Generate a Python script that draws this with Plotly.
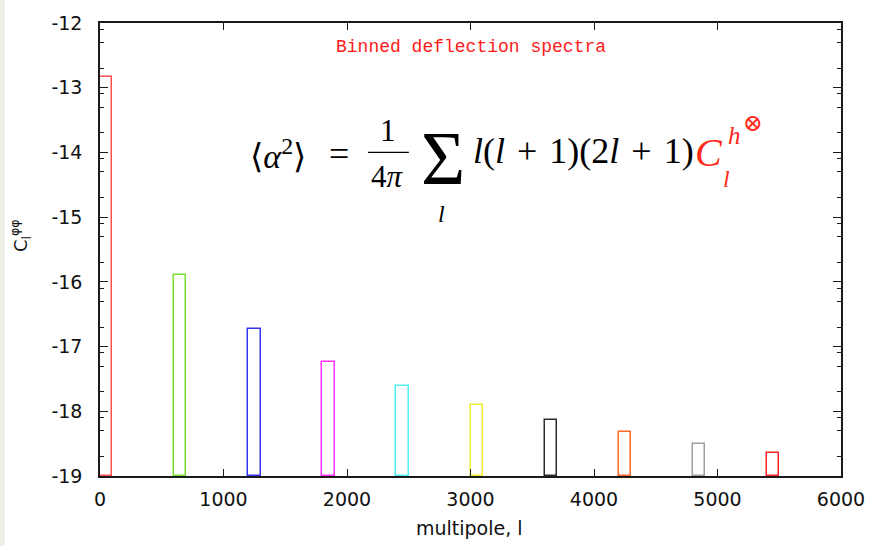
import plotly.graph_objects as go
import numpy as np

# Binned deflection spectra: log10 C_l^{phi phi} per multipole bin
bin_start = [0, 600, 1200, 1800, 2400, 3000, 3600, 4200, 4800, 5400]
bin_width = 100
log_cl = [-12.84, -15.89, -16.73, -17.24, -17.61, -17.90, -18.13, -18.32, -18.50, -18.65]
bar_colors = ["#ff5050", "#78e030", "#3434f0", "#ff34ff", "#50f0f0",
              "#f0ec30", "#2a2a2a", "#ff6428", "#a0a0a0", "#ff2424"]
floor = -19

y_ticks = [-19, -18, -17, -16, -15, -14, -13, -12]
y_tick_text = ["-19", "-18", "-17", "-16", "-15", "-14", "-13", "-12"]
x_ticks = [0, 1000, 2000, 3000, 4000, 5000, 6000]
x_tick_text = ["0", "1000", "2000", "3000", "4000", "5000", "6000"]

# minor ticks at log10(2), log10(5), log10(8) inside each unit
y_minor = [n + np.log10(k) for n in range(-19, -12) for k in (2, 5, 8)]

AX = "#1a1a1a"
SANS = "DejaVu Sans, Arial, sans-serif"
SERIF = "Liberation Serif, DejaVu Serif, serif"
HAIR = "\u200a"

fig = go.Figure()
fig.add_trace(go.Bar(
    x=bin_start,
    y=[v - floor for v in log_cl],
    base=floor,
    width=bin_width,
    offset=0,
    marker=dict(color="rgba(0,0,0,0)", line=dict(color=bar_colors, width=1.5)),
    showlegend=False,
    hoverinfo="skip",
))

# plot-area pixel helpers for the text layout
L, R, T, B = 100.3, 845.7, 15.3, 476.3


def px(x):
    return (x - L) / (R - L)


def py(y):
    return (B - y) / (B - T)


ann = []


def text(x, y, s, size, color="black", font=SERIF, xanchor="center", yanchor="middle", angle=0):
    ann.append(dict(x=px(x), y=py(y), xref="paper", yref="paper", text=s, showarrow=False,
                    xanchor=xanchor, yanchor=yanchor, textangle=angle,
                    font=dict(family=font, size=size, color=color)))


# heading
text(474, 40, "Binned deflection spectra", 18, color="#ff1a1a",
     font="Liberation Mono, Courier New, monospace")

# <alpha^2> = 1/(4 pi) sum_l l(l+1)(2l+1) C_l^{h (x)}
plus = " " + HAIR + "+" + HAIR + " "
text(249, 149, "⟨<i>α</i><sup>2</sup>⟩", 34, xanchor="left")
text(341, 149, "=", 36)
text(390, 125, "1", 31)
text(390, 172, "4<i>π</i>", 31)
text(445, 153, "Σ", 76)
text(444, 210, "<i>l</i>", 24)
text(473, 146, "<i>l</i>(<i>l</i>" + plus + "1)(2<i>l</i>" + plus + "1)", 36, xanchor="left")
RED = "#ff2a1a"
text(697, 147, "<i>C</i>", 40, color=RED, xanchor="left")
text(725, 174, "<i>l</i>", 24, color=RED, xanchor="left")
text(730, 130, "<i>h</i>", 25, color=RED, xanchor="left")
text(745, 117, "⊗", 24, color=RED, xanchor="left")

# axis titles
text(472, 529, "multipole, l", 19, color="#111", font=SANS)
text(20, 232, "C<sub>l</sub><sup>φφ</sup>", 18, color="#111", font=SANS, angle=-90)

shapes = [
    # fraction bar
    dict(type="line", xref="paper", yref="paper", x0=px(370), x1=px(411), y0=py(147), y1=py(147),
         line=dict(color="black", width=1.3)),
    # light strip along the left edge of the page
    dict(type="rect", xref="paper", yref="paper", xsizemode="pixel", ysizemode="scaled",
         xanchor=0, x0=-L, x1=-L + 5, y0=-1, y1=2,
         fillcolor="#eeeee7", line=dict(width=0), layer="below"),
]

fig.update_layout(
    width=877, height=546,
    margin=dict(l=100, r=31, t=15, b=70),
    paper_bgcolor="white", plot_bgcolor="white",
    annotations=ann, shapes=shapes,
    bargap=0,
    xaxis=dict(range=[0, 6000], tickvals=x_ticks, ticktext=x_tick_text,
               ticks="inside", ticklen=7, tickwidth=1.3, tickcolor=AX,
               showline=True, linecolor=AX, linewidth=1.5, mirror="ticks",
               showgrid=False, zeroline=False, ticklabelstandoff=5,
               tickfont=dict(family=SANS, size=19, color="#111")),
    yaxis=dict(range=[-19, -12], tickvals=y_ticks, ticktext=y_tick_text,
               ticks="inside", ticklen=8, tickwidth=1.3, tickcolor=AX,
               showline=True, linecolor=AX, linewidth=1.5, mirror="ticks",
               showgrid=False, zeroline=False, ticklabelstandoff=12,
               tickfont=dict(family=SANS, size=19, color="#111"),
               minor=dict(tickmode="array", tickvals=y_minor, ticks="inside",
                          ticklen=4, tickwidth=1.1, tickcolor=AX, showgrid=False)),
)

fig.write_html("out.html")
